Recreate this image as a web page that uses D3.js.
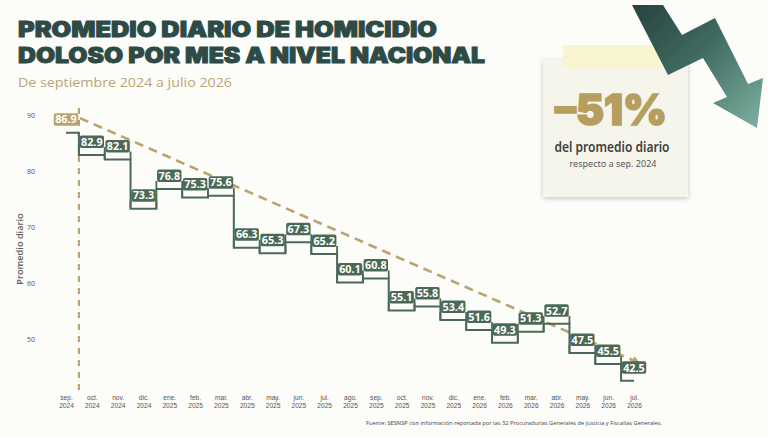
<!DOCTYPE html>
<html>
<head>
<meta charset="utf-8">
<script src="https://cdn.jsdelivr.net/npm/d3@7"></script>
<style>
  html, body { margin: 0; padding: 0; background: #fcfcf9; }
  svg { display: block; }
</style>
</head>
<body>
<div id="container"></div>
<script>
// data
const months = ["sep.", "oct.", "nov.", "dic.", "ene.", "feb.", "mar.", "abr.", "may.", "jun.", "jul.", "ago.",
                "sep.", "oct.", "nov.", "dic.", "ene.", "feb.", "mar.", "abr.", "may.", "jun.", "jul."];
const years = ["2024", "2024", "2024", "2024", "2025", "2025", "2025", "2025", "2025", "2025", "2025", "2025",
               "2025", "2025", "2025", "2025", "2026", "2026", "2026", "2026", "2026", "2026", "2026"];
const values = [86.9, 82.9, 82.1, 73.3, 76.8, 75.3, 75.6, 66.3, 65.3, 67.3, 65.2, 60.1,
                60.8, 55.1, 55.8, 53.4, 51.6, 49.3, 51.3, 52.7, 47.5, 45.5, 42.5];
const yTicks = [50, 60, 70, 80, 90];
// dashed trend (month index, value) and the reference line at the start
const trendIdx = [0.54, 22.1];
const trendVal = [89.5, 45.9];
const refIdx = 0.5;
const refVal = [91.3, 40];

const categories = months.map((m, i) => m + " " + years[i]);

const width = 768;
const height = 437;
const green = "#4b6957";
const tan = "#b9a36e";
const heavy = "Inter, Roboto, Lato, sans-serif";

const svg = d3.select("#container").append("svg")
  .attr("width", width).attr("height", height);

svg.append("rect").attr("width", width).attr("height", height).attr("fill", "#fcfcf9");

const defs = svg.append("defs");
const shadow = defs.append("filter").attr("id", "shadow")
  .attr("x", "-20%").attr("y", "-20%").attr("width", "140%").attr("height", "140%");
shadow.append("feDropShadow").attr("dx", 0).attr("dy", 1.5).attr("stdDeviation", 2.5)
  .attr("flood-color", "#000").attr("flood-opacity", 0.22);

const grad = defs.append("linearGradient").attr("id", "arrowGrad")
  .attr("x1", "0%").attr("y1", "0%").attr("x2", "100%").attr("y2", "100%");
grad.append("stop").attr("offset", "0%").attr("stop-color", "#27423f");
grad.append("stop").attr("offset", "45%").attr("stop-color", "#3f6a60");
grad.append("stop").attr("offset", "100%").attr("stop-color", "#7fb2a2");

defs.append("marker").attr("id", "trendHead")
  .attr("viewBox", "0 0 10 10").attr("refX", 5).attr("refY", 5)
  .attr("markerWidth", 3.2).attr("markerHeight", 3.2)
  .attr("orient", "auto")
  .append("path").attr("d", "M0,0 L10,5 L0,10 z").attr("fill", tan);

// title
svg.append("text").attr("x", 18).attr("y", 37)
  .attr("textLength", 419).attr("lengthAdjust", "spacingAndGlyphs")
  .style("font-family", heavy).style("font-weight", 900).style("font-size", "21px")
  .attr("fill", "#2e4a45").attr("stroke", "#2e4a45").attr("stroke-width", 0.9)
  .text("PROMEDIO DIARIO DE HOMICIDIO");
svg.append("text").attr("x", 18).attr("y", 63)
  .attr("textLength", 467).attr("lengthAdjust", "spacingAndGlyphs")
  .style("font-family", heavy).style("font-weight", 900).style("font-size", "21px")
  .attr("fill", "#2e4a45").attr("stroke", "#2e4a45").attr("stroke-width", 0.9)
  .text("DOLOSO POR MES A NIVEL NACIONAL");
svg.append("text").attr("x", 18).attr("y", 87)
  .attr("textLength", 214).attr("lengthAdjust", "spacingAndGlyphs")
  .style("font-family", "'Open Sans', sans-serif").style("font-size", "13.5px")
  .attr("fill", "#bba574").text("De septiembre 2024 a julio 2026");

// scales
const x = d3.scalePoint().domain(categories).range([66, 634]);
const xi = d3.scaleLinear().domain([0, categories.length - 1]).range([66, 634]);
const y = d3.scaleLinear().domain([40, 90]).range([394.8, 115.3]);
const step = x.step();

// axes
const yAxis = d3.axisLeft(y).tickValues(yTicks).tickSize(0).tickPadding(0);
const gy = svg.append("g").attr("transform", "translate(35,0)").call(yAxis);
gy.select(".domain").remove();
gy.selectAll("text").style("font-family", "'Open Sans', sans-serif").style("font-size", "7px").attr("fill", "#555");

// month labels on one axis, years on a second one just below
const xAxisMonth = d3.axisBottom(x).tickSize(0).tickPadding(0).tickFormat(d => d.split(" ")[0]);
const gx = svg.append("g").attr("transform", "translate(0,395)").call(xAxisMonth);
gx.select(".domain").remove();
gx.selectAll("text").attr("y", 5.3).attr("dy", null)
  .style("font-family", "'Liberation Sans', sans-serif").style("font-size", "6.6px").attr("fill", "#555");

const xAxisYear = d3.axisBottom(x).tickSize(0).tickPadding(0).tickFormat(d => d.split(" ")[1]);
const gx2 = svg.append("g").attr("transform", "translate(0,402.6)").call(xAxisYear);
gx2.select(".domain").remove();
gx2.selectAll("text").attr("y", 5.3).attr("dy", null)
  .style("font-family", "'Liberation Sans', sans-serif").style("font-size", "6.6px").attr("fill", "#555");

svg.append("text")
  .attr("transform", "translate(23,249) rotate(-90)")
  .attr("text-anchor", "middle")
  .style("font-family", "'Open Sans', sans-serif").style("font-size", "9.2px").style("font-weight", 600)
  .attr("fill", "#5c5c5c").text("Promedio diario");

// reference vertical dashed line
svg.append("line")
  .attr("x1", xi(refIdx)).attr("x2", xi(refIdx))
  .attr("y1", y(refVal[0])).attr("y2", y(refVal[1]))
  .attr("stroke", tan).attr("stroke-width", 2.2).attr("stroke-dasharray", "6,6");

// trend
svg.append("line")
  .attr("x1", xi(trendIdx[0])).attr("y1", y(trendVal[0]))
  .attr("x2", xi(trendIdx[1])).attr("y2", y(trendVal[1]))
  .attr("stroke", tan).attr("stroke-width", 2.6).attr("stroke-dasharray", "9,6")
  .attr("marker-end", "url(#trendHead)");

// step line
const line = d3.line()
  .x((d, i) => x(categories[i]))
  .y(d => y(d))
  .curve(d3.curveStep);

svg.append("path").datum(values)
  .attr("d", line)
  .attr("fill", "none").attr("stroke", green).attr("stroke-width", 2);

// label boxes sitting on each step
const last = values.length - 1;
const labels = svg.append("g").selectAll("g").data(values).enter().append("g");

labels.filter((d, i) => i > 0).append("path")
  .attr("d", (d, i) => {
    const k = i + 1;
    const cx = x(categories[k]);
    const x0 = cx - step / 2, x1 = cx + step / 2;
    let p = "M" + x0 + "," + (y(d) - 8) + "V" + y(d);
    if (k < last) p += "M" + x1 + "," + (y(d) - 8) + "V" + y(d);
    return p;
  })
  .attr("fill", "none").attr("stroke", green).attr("stroke-width", 1.8);

labels.append("rect")
  .attr("x", (d, i) => x(categories[i]) - step / 2 + 0.7)
  .attr("y", d => y(d) - 19.5)
  .attr("width", step - 1.4)
  .attr("height", 12.5)
  .attr("rx", 2)
  .attr("fill", (d, i) => i === 0 ? tan : green);

labels.append("text")
  .attr("x", (d, i) => x(categories[i]))
  .attr("y", d => y(d) - 9.3)
  .attr("text-anchor", "middle")
  .style("font-family", "'Open Sans', sans-serif").style("font-weight", 700).style("font-size", "10.8px")
  .attr("fill", "#fff")
  .text(d => d.toFixed(1));

// source
svg.append("text").attr("x", 366).attr("y", 425)
  .attr("textLength", 296).attr("lengthAdjust", "spacingAndGlyphs")
  .style("font-family", "'Open Sans', sans-serif").style("font-size", "5.6px")
  .attr("fill", "#444")
  .text("Fuente: SESNSP con información reportada por las 32 Procuradurías Generales de Justicia y Fiscalías Generales.");

// callout card
const card = svg.append("g");
card.append("rect").attr("x", 543).attr("y", 60).attr("width", 145).attr("height", 137)
  .attr("fill", "#f6f5ec").attr("filter", "url(#shadow)");
card.append("rect").attr("x", 563).attr("y", 45).attr("width", 100).attr("height", 22)
  .attr("fill", "#f7f3cc").attr("opacity", 0.95);
card.append("text").attr("x", 611).attr("y", 125).attr("text-anchor", "middle")
  .attr("textLength", 112).attr("lengthAdjust", "spacingAndGlyphs")
  .style("font-family", heavy).style("font-weight", 900).style("font-size", "42px")
  .attr("fill", "#b69e60").attr("stroke", "#b69e60").attr("stroke-width", 1.6)
  .text("–51%");
card.append("text").attr("x", 612).attr("y", 152).attr("text-anchor", "middle")
  .attr("textLength", 115).attr("lengthAdjust", "spacingAndGlyphs")
  .style("font-family", "'Noto Sans', sans-serif").style("font-weight", 600).style("font-size", "13.5px")
  .attr("fill", "#3f3f3f").text("del promedio diario");
card.append("text").attr("x", 613).attr("y", 167).attr("text-anchor", "middle")
  .attr("textLength", 87).attr("lengthAdjust", "spacingAndGlyphs")
  .style("font-family", "'Noto Sans', sans-serif").style("font-size", "9.5px")
  .attr("fill", "#555").text("respecto a sep. 2024");

// decorative falling arrow
const arrowPts = [[632, 5], [663, 5], [682, 35], [715, 18], [748, 84], [763, 78],
                  [757, 128], [713, 103], [727, 97], [703, 58], [668, 75]];
svg.append("path")
  .attr("d", "M" + arrowPts.map(p => p.join(",")).join("L") + "Z")
  .attr("fill", "url(#arrowGrad)");
</script>
</body>
</html>
